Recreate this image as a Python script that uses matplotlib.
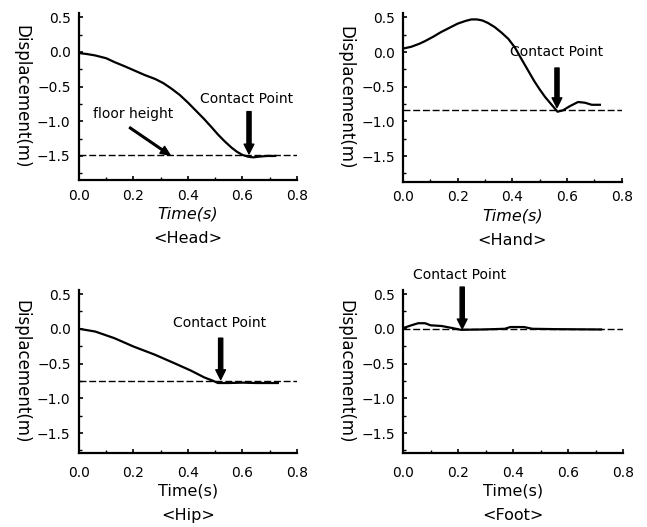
import matplotlib.pyplot as plt
from matplotlib.ticker import MultipleLocator

# displacement traces
head_t = [0.0, 0.03, 0.06, 0.1, 0.13, 0.17, 0.205, 0.24, 0.28, 0.31, 0.34, 0.37, 0.40, 0.43, 0.46, 0.49, 0.51, 0.535, 0.56, 0.58, 0.60, 0.62, 0.64, 0.66, 0.69, 0.72]
head_y = [-0.015, -0.03, -0.05, -0.09, -0.145, -0.21, -0.27, -0.33, -0.39, -0.45, -0.53, -0.62, -0.73, -0.85, -0.97, -1.1, -1.19, -1.29, -1.38, -1.44, -1.485, -1.51, -1.52, -1.51, -1.5, -1.5]

hand_t = [0.0, 0.03, 0.06, 0.08, 0.11, 0.14, 0.17, 0.2, 0.23, 0.25, 0.27, 0.29, 0.31, 0.335, 0.36, 0.385, 0.41, 0.43, 0.455, 0.48, 0.5, 0.52, 0.55, 0.565, 0.585, 0.61, 0.64, 0.665, 0.69, 0.72]
hand_y = [0.05, 0.076, 0.12, 0.157, 0.22, 0.29, 0.35, 0.41, 0.45, 0.47, 0.47, 0.455, 0.42, 0.36, 0.28, 0.19, 0.06, -0.08, -0.25, -0.42, -0.54, -0.65, -0.79, -0.86, -0.84, -0.78, -0.72, -0.73, -0.76, -0.76]

hip_t = [0.0, 0.06, 0.13, 0.2, 0.28, 0.35, 0.41, 0.46, 0.49, 0.51, 0.55, 0.6, 0.65, 0.73]
hip_y = [0.0, -0.04, -0.135, -0.255, -0.375, -0.495, -0.6, -0.7, -0.745, -0.78, -0.78, -0.775, -0.78, -0.78]

foot_t = [0.0, 0.03, 0.055, 0.08, 0.1, 0.14, 0.18, 0.21, 0.25, 0.29, 0.37, 0.39, 0.44, 0.47, 0.55, 0.65, 0.72]
foot_y = [0.01, 0.05, 0.08, 0.08, 0.05, 0.04, 0.01, -0.015, -0.012, -0.01, 0.0, 0.025, 0.025, 0.0, -0.005, -0.008, -0.01]

panel_names = ['<Head>', '<Hand>', '<Hip>', '<Foot>']
floor_levels = [-1.48, -0.84, -0.745, -0.01]
contact_times = [0.624, 0.563, 0.52, 0.215]
arrow_tops = [-0.86, -0.23, -0.135, 0.6]
arrow_tips = [-1.47, -0.80, -0.73, 0.0]
label_pos = [(0.615, -0.68), (0.561, 0.0), (0.517, 0.08), (0.207, 0.77)]
ylims = [(-1.85, 0.56), (-1.87, 0.56), (-1.79, 0.56), (-1.79, 0.56)]

series = [(head_t, head_y), (hand_t, hand_y), (hip_t, hip_y), (foot_t, foot_y)]
positions = [[0.122, 0.658, 0.337, 0.317],
             [0.623, 0.655, 0.338, 0.320],
             [0.122, 0.140, 0.337, 0.310],
             [0.623, 0.140, 0.340, 0.310]]


def draw_panel(fig, i):
    ax = fig.add_axes(positions[i])
    t, y = series[i]
    ax.plot(t, y, color='black', lw=1.6)
    ax.plot([0, 0.8], [floor_levels[i], floor_levels[i]], color='black', lw=1.0, linestyle=(0, (5, 2)))

    ax.annotate('', xy=(contact_times[i], arrow_tips[i]), xytext=(contact_times[i], arrow_tops[i]),
                arrowprops=dict(facecolor='black', edgecolor='black', width=3, headwidth=7,
                                headlength=7, shrink=0), annotation_clip=False)
    ax.text(label_pos[i][0], label_pos[i][1], 'Contact Point', ha='center', va='center',
            fontsize=10, clip_on=False)

    if i == 0:
        ax.text(0.2, -0.9, 'floor height', ha='center', va='center', fontsize=10)
        ax.annotate('', xy=(0.335, -1.49), xytext=(0.186, -1.09),
                    arrowprops=dict(facecolor='black', edgecolor='black', width=1.2, headwidth=6,
                                    headlength=7, shrink=0))

    ax.set_xlim(0, 0.8)
    ax.set_ylim(*ylims[i])
    ax.set_xticks([0.0, 0.2, 0.4, 0.6, 0.8])
    ax.set_yticks([0.5, 0.0, -0.5, -1.0, -1.5])
    ax.xaxis.set_minor_locator(MultipleLocator(0.1))
    ax.yaxis.set_minor_locator(MultipleLocator(0.25))
    xpad = 6 if i < 2 else 9
    ax.tick_params(direction='in', length=3, width=1.2, labelsize=10, pad=6)
    ax.tick_params(axis='x', pad=xpad)
    ax.tick_params(which='minor', direction='in', length=2, width=1)
    ax.xaxis.set_major_formatter(plt.FormatStrFormatter('%.1f'))
    ax.yaxis.set_major_formatter(plt.FuncFormatter(lambda v, p: f'{v:.1f}'.replace('-', '\u2212')))
    for side in ['top', 'right']:
        ax.spines[side].set_visible(False)
    for side in ['left', 'bottom']:
        ax.spines[side].set_linewidth(1.6)

    ax.set_ylabel('Displacement(m)', fontsize=12, rotation=-90, labelpad=11, va='center')
    style = 'italic' if i < 2 else 'normal'
    ax.set_xlabel('Time(s)', fontsize=11.5, style=style, labelpad=3)
    drop = -42 if i < 2 else -45
    ax.annotate(panel_names[i], xy=(0.5, 0), xycoords='axes fraction', xytext=(0, drop),
                textcoords='offset points', ha='center', va='center', fontsize=11.5)


fig = plt.figure(figsize=(6.47, 5.27), dpi=100)
for i in range(4):
    draw_panel(fig, i)
fig.savefig('out.png', dpi=100)
